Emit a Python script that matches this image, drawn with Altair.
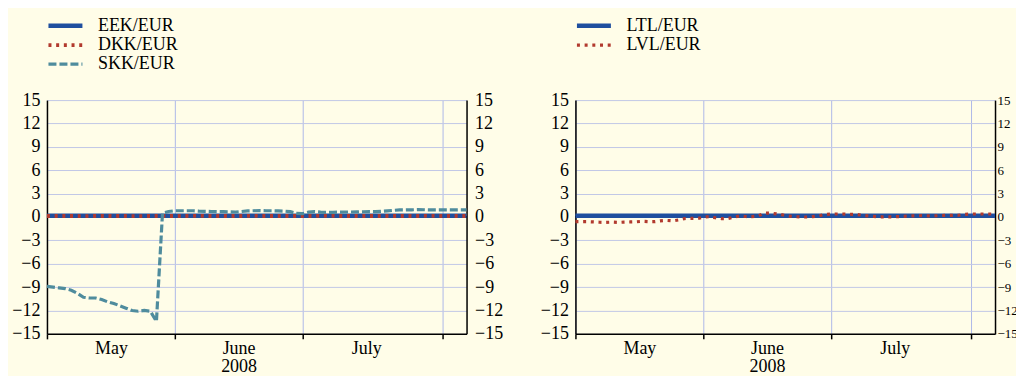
import altair as alt
import pandas as pd

# ---- categories (ECB business days, May 2 - Aug 7 2008) ----
may_days = [2, 5, 6, 7, 8, 9, 12, 13, 14, 15, 16, 19, 20, 21, 22, 23, 26, 27, 28, 29, 30]
jun_days = [2, 3, 4, 5, 6, 9, 10, 11, 12, 13, 16, 17, 18, 19, 20, 23, 24, 25, 26, 27, 30]
jul_days = [1, 2, 3, 4, 7, 8, 9, 10, 11, 14, 15, 16, 17, 18, 21, 22, 23, 24, 25, 28, 29, 30, 31]
aug_days = [1, 4, 5, 6, 7]
dates = ([f"2008-05-{d:02d}" for d in may_days] + [f"2008-06-{d:02d}" for d in jun_days]
         + [f"2008-07-{d:02d}" for d in jul_days] + [f"2008-08-{d:02d}" for d in aug_days])

# ---- series values (% deviation from central rate) ----
eek = [0.15, 0.15, 0.15, 0.15, 0.15, 0.15, 0.15, 0.15, 0.15, 0.15,
       0.15, 0.15, 0.15, 0.15, 0.15, 0.15, 0.15, 0.15, 0.15, 0.15,
       0.15, 0.15, 0.15, 0.15, 0.15, 0.15, 0.15, 0.15, 0.15, 0.15,
       0.15, 0.15, 0.15, 0.15, 0.15, 0.15, 0.15, 0.15, 0.15, 0.15,
       0.15, 0.15, 0.15, 0.15, 0.15, 0.15, 0.15, 0.15, 0.15, 0.15,
       0.15, 0.15, 0.15, 0.15, 0.15, 0.15, 0.15, 0.15, 0.15, 0.15,
       0.15, 0.15, 0.15, 0.15, 0.15, 0.15, 0.15, 0.15, 0.15, 0.15]
dkk = [0.12, 0.12, 0.13, 0.13, 0.12, 0.12, 0.11, 0.12, 0.12, 0.13,
       0.13, 0.12, 0.12, 0.12, 0.11, 0.11, 0.12, 0.12, 0.13, 0.13,
       0.12, 0.12, 0.13, 0.13, 0.14, 0.14, 0.13, 0.13, 0.12, 0.12,
       0.12, 0.13, 0.13, 0.14, 0.14, 0.13, 0.13, 0.12, 0.12, 0.12,
       0.12, 0.12, 0.13, 0.13, 0.13, 0.14, 0.14, 0.14, 0.13, 0.13,
       0.12, 0.12, 0.12, 0.13, 0.13, 0.13, 0.12, 0.12, 0.12, 0.13,
       0.13, 0.13, 0.14, 0.14, 0.14, 0.13, 0.13, 0.13, 0.13, 0.13]
skk = [-8.9, -9.0, -9.1, -9.2, -9.4, -9.8, -10.3, -10.4, -10.4, -10.6,
       -10.9, -11.1, -11.4, -11.7, -12.0, -12.1, -12.0, -12.1, -13.4, 0.5,
       0.7, 0.8, 0.8, 0.8, 0.8, 0.75, 0.72, 0.7, 0.68, 0.68,
       0.66, 0.64, 0.7, 0.78, 0.8, 0.82, 0.8, 0.8, 0.78, 0.75,
       0.68, 0.45, 0.42, 0.62, 0.68, 0.62, 0.6, 0.6, 0.62, 0.64,
       0.64, 0.65, 0.67, 0.68, 0.68, 0.72, 0.78, 0.85, 0.9, 0.9,
       0.92, 0.94, 0.93, 0.9, 0.9, 0.9, 0.9, 0.9, 0.9, 0.9]
ltl = [0.15, 0.15, 0.15, 0.15, 0.15, 0.15, 0.15, 0.15, 0.15, 0.15,
       0.15, 0.15, 0.15, 0.15, 0.15, 0.15, 0.15, 0.15, 0.15, 0.15,
       0.15, 0.15, 0.15, 0.15, 0.15, 0.15, 0.15, 0.15, 0.15, 0.15,
       0.15, 0.15, 0.15, 0.15, 0.15, 0.15, 0.15, 0.15, 0.15, 0.15,
       0.15, 0.15, 0.15, 0.15, 0.15, 0.15, 0.15, 0.15, 0.15, 0.15,
       0.15, 0.15, 0.15, 0.15, 0.15, 0.15, 0.15, 0.15, 0.15, 0.15,
       0.15, 0.15, 0.15, 0.15, 0.15, 0.15, 0.15, 0.15, 0.15, 0.15]
lvl = [-0.6, -0.6, -0.6, -0.64, -0.68, -0.7, -0.66, -0.7, -0.66, -0.64,
       -0.62, -0.56, -0.6, -0.6, -0.5, -0.44, -0.5, -0.38, -0.2, -0.18,
       -0.2, -0.04, 0.06, -0.1, -0.2, -0.2, -0.04, 0.12, 0.06, 0.04,
       0.1, 0.5, 0.5, 0.4, 0.28, 0.12, 0.04, 0.0, 0.0, 0.04,
       0.14, 0.32, 0.38, 0.38, 0.38, 0.35, 0.34, 0.25, 0.14, 0.08,
       0.0, 0.03, 0.0, 0.05, 0.08, 0.13, 0.13, 0.18, 0.15, 0.13,
       0.18, 0.2, 0.2, 0.22, 0.34, 0.38, 0.38, 0.38, 0.38, 0.38]

left_names = ["EEK/EUR", "DKK/EUR", "SKK/EUR"]
right_names = ["LTL/EUR", "LVL/EUR"]

tick_dates = ["2008-05-02", "2008-06-02", "2008-07-01", "2008-08-01"]
month_labels = ["May", "June", "July", ""]
year_label = "2008"
y_ticks = [-15, -12, -9, -6, -3, 0, 3, 6, 9, 12, 15]

# ---- styling ----
BG = "#FFFDE8"
FONT = "Liberation Serif"
BLUE = "#1F4F9F"
RED = "#B23A2E"
TEAL = "#4F8C9D"
GRID_X = "#AEB8E8"
GRID_Y = "#C2C8E6"


def long_frame(names, series):
    rows = []
    for name, vals in zip(names, series):
        for d, v in zip(dates, vals):
            rows.append({"date": d, "series": name, "value": v})
    return pd.DataFrame(rows)


parts = []
for d, m in zip(tick_dates, month_labels):
    if m == "June":
        parts.append(f"datum.value == '{d}' ? ['{m}', '{year_label}']")
    else:
        parts.append(f"datum.value == '{d}' ? '{m}'")
label_expr = " : ".join(parts) + " : ''"


def panel(df, names, colors, dashes, widths, r_font=18, r_pad=8):
    x = alt.X(
        "date:O",
        sort=None,
        scale=alt.Scale(type="point", padding=0),
        axis=alt.Axis(
            values=tick_dates, labelExpr=label_expr, labelOffset=64, labelAngle=0,
            tickSize=5, tickColor="black", tickWidth=1.5,
            domainColor="black", domainWidth=1.5,
            grid=True, gridColor=GRID_X, gridWidth=1,
            labelPadding=1, labelLineHeight=18, labelOverlap=False,
            labelBound=False, labelFlush=False,
            labelFont=FONT, labelFontSize=18, labelColor="black", title=None,
        ),
    )
    yscale = alt.Scale(domain=[-15, 15], nice=False, zero=False)
    left_axis = alt.Axis(values=y_ticks, tickSize=0, labelPadding=7, labelOverlap=False,
                         domainColor="black", domainWidth=1.5,
                         grid=True, gridColor=GRID_Y, gridWidth=1,
                         labelFont=FONT, labelFontSize=18, labelColor="black", title=None)
    y_left = alt.Y("value:Q", scale=yscale, axis=left_axis)
    leg = alt.Legend(
        title=None, orient="none", legendX=8, legendY=-85,
        symbolType="M-2.125,0H2.125", symbolSize=256,
        labelFont=FONT, labelFontSize=18, labelColor="black",
        labelOffset=22, rowPadding=0, padding=0,
    )
    zero = alt.Chart(df).mark_rule(color="black", strokeWidth=1.5).encode(
        y=alt.Y(datum=0, scale=yscale, axis=left_axis)
    )
    layers = [zero]
    for n in names:
        layers.append(
            alt.Chart(df).transform_filter(alt.datum.series == n).mark_line(strokeCap="butt").encode(
                x=x,
                y=y_left,
                color=alt.Color("series:N", sort=names, scale=alt.Scale(domain=names, range=colors), legend=leg),
                strokeDash=alt.StrokeDash("series:N", sort=names, scale=alt.Scale(domain=names, range=dashes), legend=leg),
                strokeWidth=alt.StrokeWidth("series:N", sort=names, scale=alt.Scale(domain=names, range=widths), legend=leg),
            )
        )
    raxis = alt.Chart(df).mark_rule(opacity=0).encode(
        y=alt.Y("value:Q", scale=yscale,
                axis=alt.Axis(orient="right", values=y_ticks, tickSize=0, labelPadding=r_pad, labelOverlap=False,
                              domainColor="black", domainWidth=1.5, grid=False,
                              labelFont=FONT, labelFontSize=r_font, labelColor="black", title=None))
    )
    return alt.layer(alt.layer(*layers), raxis).resolve_scale(y="independent").properties(
        width=420, height=234
    )


left_df = long_frame(left_names, [eek, dkk, skk])
right_df = long_frame(right_names, [ltl, lvl])

left = panel(left_df, left_names, [BLUE, RED, TEAL], [[1, 0], [3, 4.7], [8, 3]], [4.5, 3.2, 3.5])
right = panel(right_df, right_names, [BLUE, RED], [[1, 0], [3, 4.7]], [4.5, 3.2], r_font=13, r_pad=2)

chart = (
    alt.hconcat(left, right, spacing=33)
    .resolve_scale(color="independent", strokeDash="independent", strokeWidth="independent",
                   x="independent", y="independent")
    .resolve_legend(color="independent", strokeDash="independent", strokeWidth="independent")
    .configure(background=BG, padding={"left": 3, "top": 7, "right": -19, "bottom": 0}, font=FONT)
    .configure_axis(labelOverlap=False)
    .configure_view(strokeWidth=0)
)

chart.save("out.html", embed_options={"renderer": "svg", "actions": False})
